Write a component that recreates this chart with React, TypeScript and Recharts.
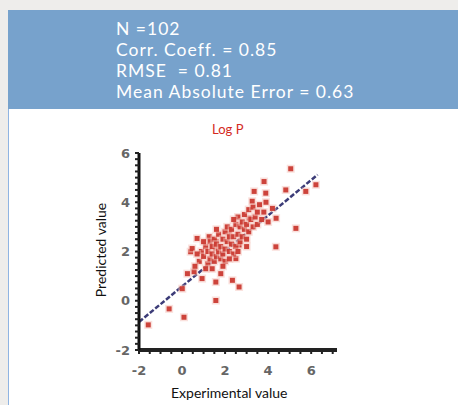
import React from 'react';
import { ScatterChart, Scatter, XAxis, YAxis, ReferenceLine } from 'recharts';

// summary stats shown in the header box
const statLines = ['N =102', 'Corr. Coeff. = 0.85', 'RMSE  = 0.81', 'Mean Absolute Error = 0.63'];

// experimental (x) vs predicted (y) log P values
const experimental = [
  5.05, 3.81, 4.82, 5.75, 6.22, 3.35, 3.89, 5.29, 4.36, 0.25, 0.56, 0.93, 1.8, 1.57, 2.34, 2.65, 0.01, 1.57, -0.6, 0.09,
  -1.57, 0.4, 0.47, 3.26, 4.2, 4.37, 3.12, 2.65, 2.19, 1.58, 0.7, 1.26, 2.5, 2.65, 1.57,
  0.8, 0.9, 1.0, 1.1, 1.2, 1.2, 1.3, 1.3, 1.4, 1.4, 1.5, 1.5, 1.6, 1.6, 1.7, 1.7, 1.8, 1.8, 1.9, 1.9,
  2.0, 2.0, 2.0, 2.1, 2.1, 2.2, 2.2, 2.3, 2.3, 2.4, 2.4, 2.5, 2.5, 2.6, 2.6, 2.7, 2.7, 2.8, 2.8, 2.9,
  2.9, 3.0, 3.0, 3.1, 3.1, 3.2, 3.3, 3.3, 3.4, 3.5, 3.5, 3.6, 3.7, 3.8, 3.9, 4.0, 1.0, 0.6, 0.7, 1.1,
  1.4, 1.9, 2.2, 2.6, 3.0, 1.6, 2.4,
];
const predicted = [
  5.36, 4.84, 4.5, 4.44, 4.71, 4.44, 4.37, 2.94, 2.19, 1.1, 1.18, 0.9, 1.1, 0.76, 0.83, 0.56, 0.49, 0.01, -0.33, -0.67,
  -0.98, 1.99, 2.12, 4.04, 3.75, 3.35, 3.35, 3.06, 2.8, 2.4, 2.53, 2.6, 1.71, 2.26, 2.12,
  1.6, 2.0, 1.8, 2.2, 1.5, 2.0, 1.7, 2.4, 1.9, 2.2, 1.6, 2.5, 1.8, 2.3, 2.0, 2.7, 1.7, 2.2, 2.5, 1.9,
  2.1, 2.8, 1.6, 2.4, 3.0, 2.0, 2.6, 2.3, 2.9, 1.9, 2.6, 2.2, 3.1, 2.7, 3.4, 2.4, 3.0, 3.2, 2.6, 3.5,
  2.9, 3.1, 2.5, 3.7, 2.8, 3.3, 3.0, 3.8, 3.4, 3.6, 3.1, 3.9, 3.3, 3.6, 4.0, 3.2, 2.4, 1.4, 1.9, 1.3,
  1.3, 1.4, 1.7, 2.0, 2.2, 2.9, 3.3,
];

// fitted line end points
const fitX = [-2, 6.3];
const fitY = [-0.86, 5.12];

const xMajor = [-2, 0, 2, 4, 6];
const yMajor = [-2, 0, 2, 4, 6];
const xTicks = Array.from({ length: 19 }, (_, i) => -2 + i * 0.5);
const yTicks = Array.from({ length: 33 }, (_, i) => -2 + i * 0.25);

const points = experimental.map((x, i) => ({ x, y: predicted[i] }));

const Dot = (props: any) => {
  const { cx, cy } = props;
  return (
    <g>
      <rect x={cx - 4} y={cy - 4} width={8} height={8} fill="#f6c4bc" opacity={0.5} />
      <rect x={cx - 2.5} y={cy - 2.5} width={5} height={5} fill="#c9352c" opacity={0.92} />
    </g>
  );
};

const App: React.FC = () => {
  return (
    <div style={{ position: 'absolute', left: 0, top: 0, width: 458, height: 405, background: '#eeedeb', overflow: 'hidden' }}>
      <div
        style={{
          position: 'absolute', left: 8, top: 10, width: 450, height: 99, background: '#77a2cc',
          color: '#fff', fontFamily: 'Lato, sans-serif', fontSize: 17.5, lineHeight: '21px', letterSpacing: 1,
          paddingLeft: 108, paddingTop: 8, boxSizing: 'border-box',
        }}
      >
        {statLines.map((s) => (
          <div key={s} style={{ whiteSpace: 'pre', height: 21 }}>{s}</div>
        ))}
      </div>
      <div style={{ position: 'absolute', left: 8, top: 109, width: 450, height: 296, background: '#fff', borderLeft: '1px solid #8fb4e2' }} />
      <div style={{ position: 'absolute', left: 212, top: 121, fontFamily: 'Lato, sans-serif', fontSize: 13, color: '#d42a22' }}>
        Log P
      </div>
      <div style={{ position: 'absolute', left: 171, top: 384, fontFamily: 'Lato, sans-serif', fontSize: 14, color: '#111' }}>
        Experimental value
      </div>
      <div
        style={{
          position: 'absolute', left: 100, top: 250, fontFamily: 'Lato, sans-serif', fontSize: 14, color: '#111',
          transform: 'translate(-50%, -50%) rotate(-90deg)', whiteSpace: 'nowrap',
        }}
      >
        Predicted value
      </div>
      <div style={{ position: 'absolute', left: 0, top: 0 }}>
        <ScatterChart width={458} height={405} margin={{ top: 153, right: 121, bottom: 25, left: 0 }}>
          <XAxis
            type="number"
            dataKey="x"
            domain={[-2, 7.2]}
            ticks={xTicks}
            interval={0}
            allowDataOverflow
            height={30}
            axisLine={{ stroke: '#222', strokeWidth: 4 }}
            tickLine={{ stroke: '#222', strokeWidth: 2 }}
            tickSize={4}
            tickMargin={12}
            tick={{ fill: '#666', fontSize: 13, fontWeight: 'bold', fontFamily: 'DejaVu Sans' }}
            tickFormatter={(v: number) => (xMajor.includes(v) ? String(v) : '')}
          />
          <YAxis
            type="number"
            dataKey="y"
            domain={[-2, 6]}
            ticks={yTicks}
            interval={0}
            allowDataOverflow
            width={139}
            axisLine={{ stroke: '#111', strokeWidth: 3 }}
            tickLine={{ stroke: '#222', strokeWidth: 2 }}
            tickSize={4}
            tickMargin={5}
            tick={{ fill: '#666', fontSize: 13, fontWeight: 'bold', fontFamily: 'DejaVu Sans' }}
            tickFormatter={(v: number) => (yMajor.includes(v) ? String(v) : '')}
          />
          <ReferenceLine
            segment={[{ x: fitX[0], y: fitY[0] }, { x: fitX[1], y: fitY[1] }]}
            stroke="#3c3c78"
            strokeWidth={2.5}
            strokeDasharray="5 2"
          />
          <Scatter data={points} shape={Dot} isAnimationActive={false} />
        </ScatterChart>
      </div>
    </div>
  );
};

export default App;
